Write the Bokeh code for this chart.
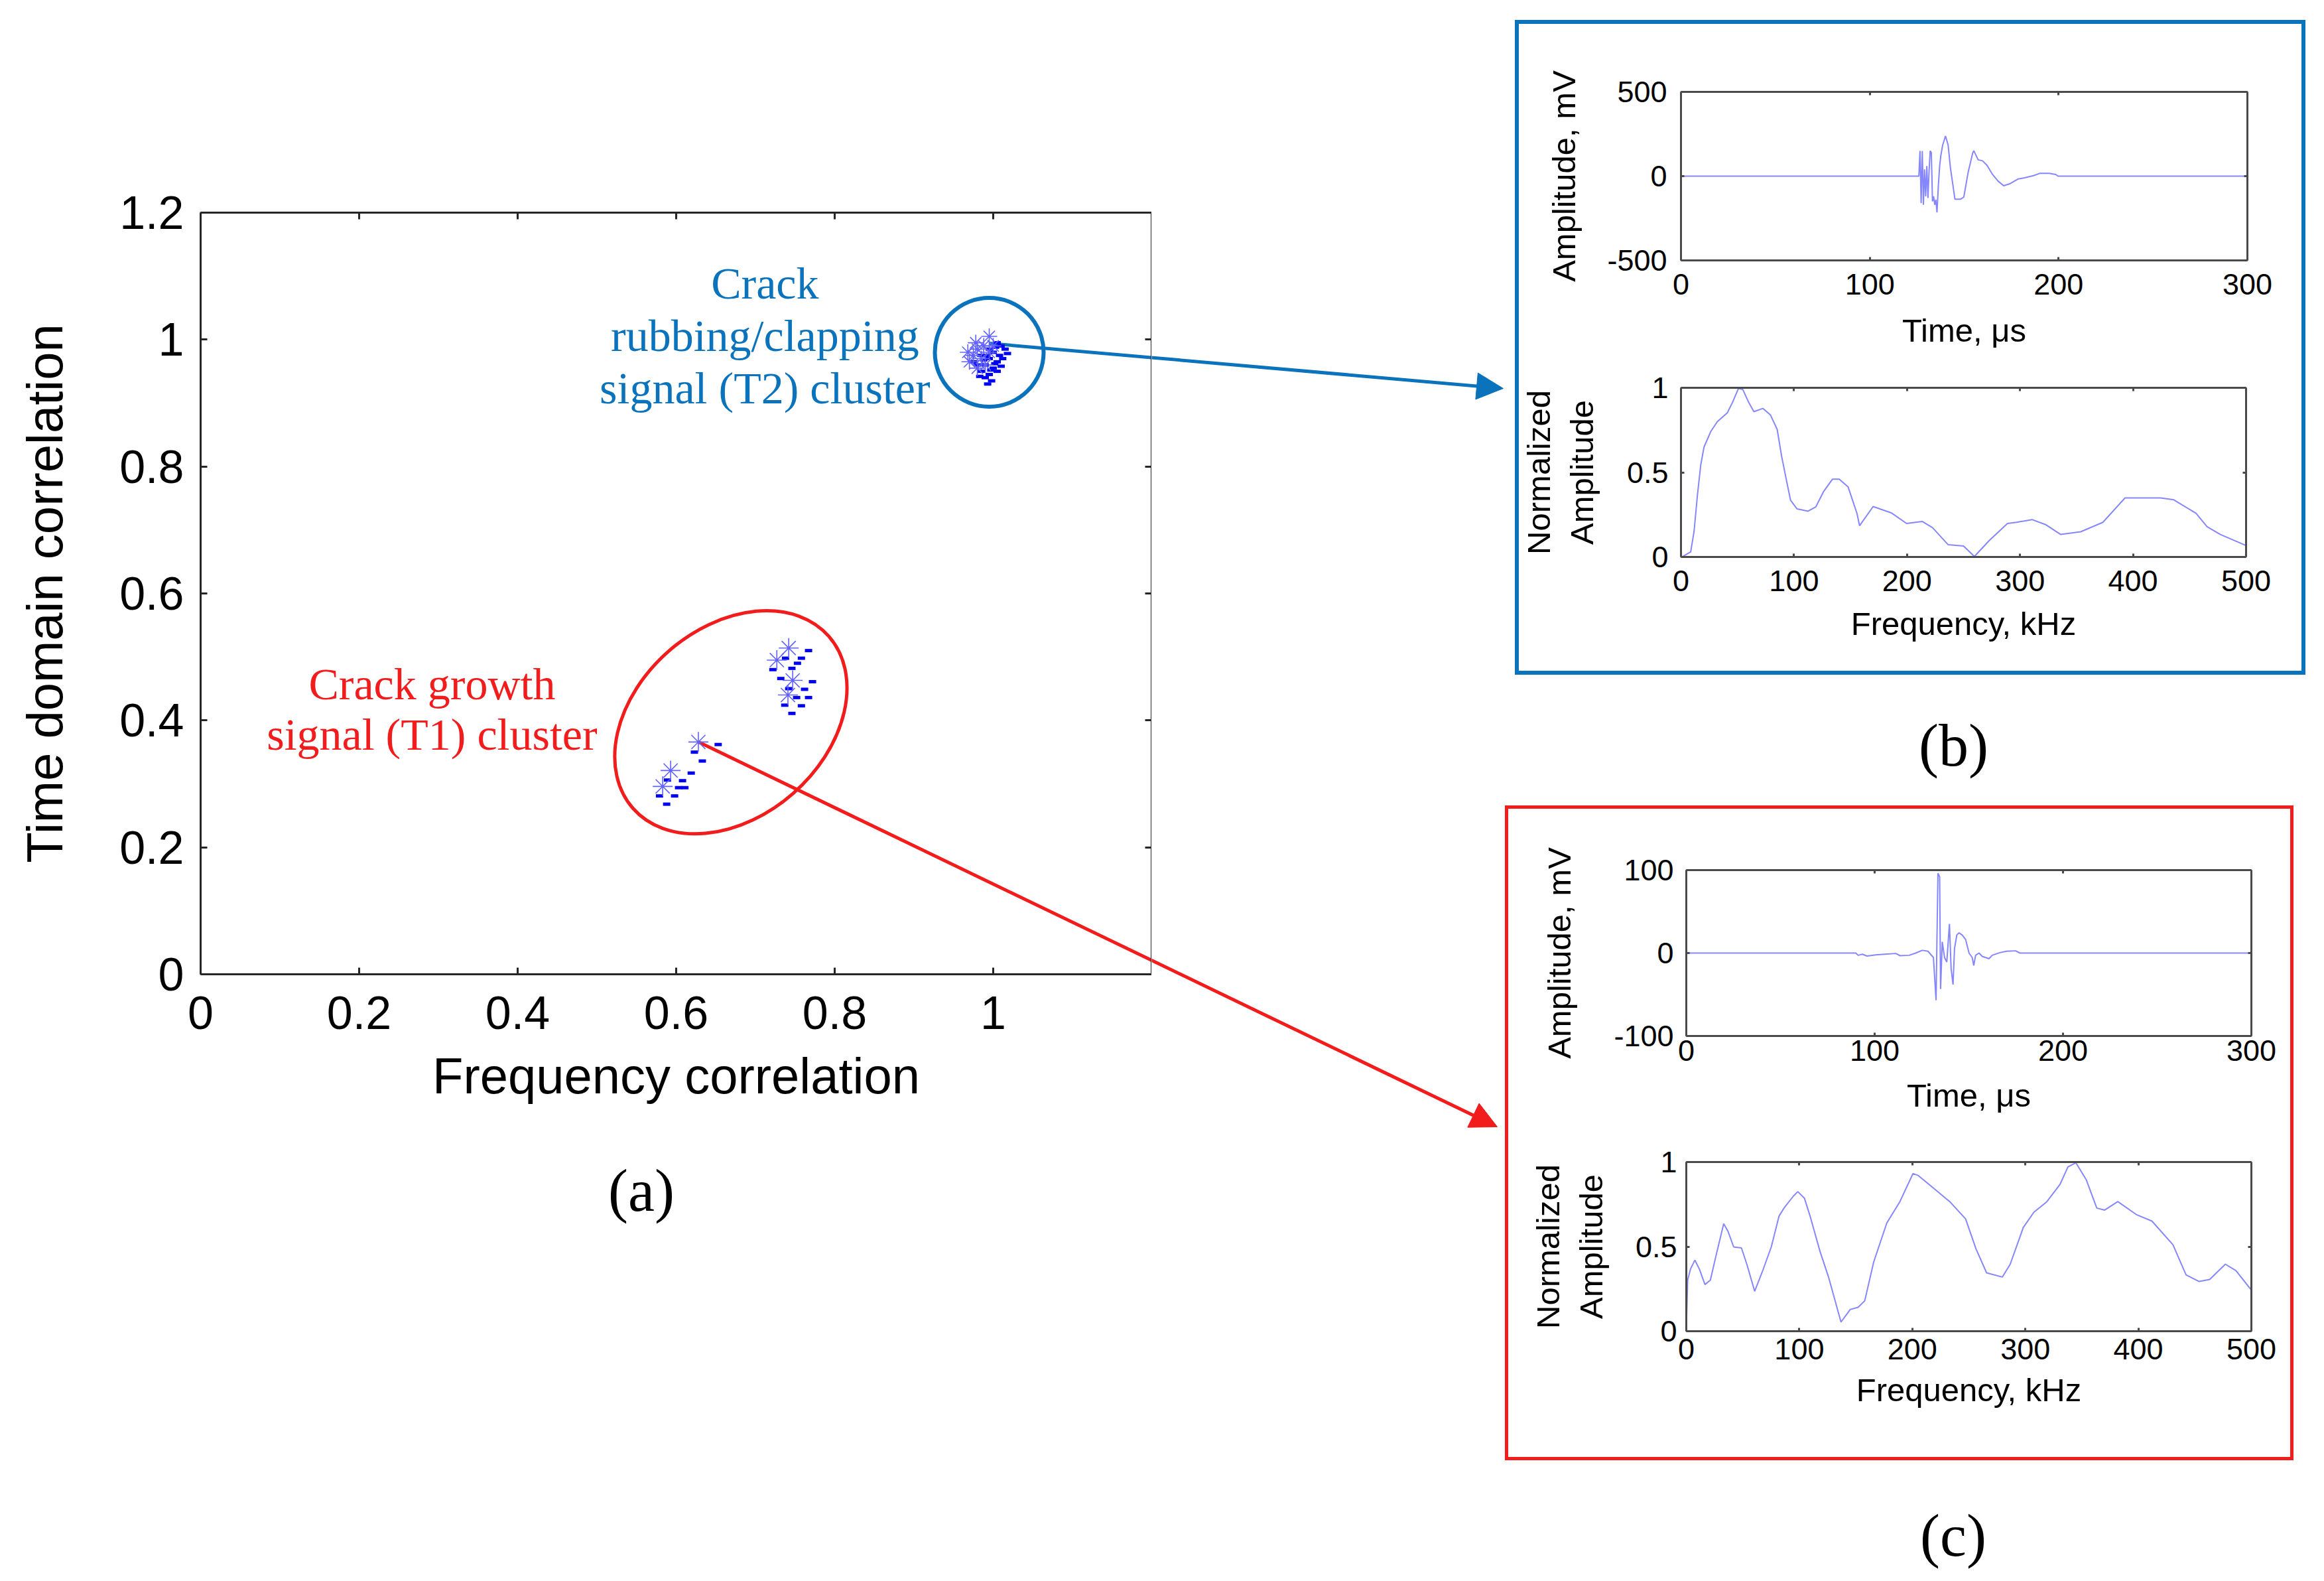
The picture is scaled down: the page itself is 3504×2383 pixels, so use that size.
from bokeh.plotting import figure
from bokeh.layouts import row, column
from bokeh.models import Range1d, LinearAxis, FixedTicker, Arrow, NormalHead, Label, Div, Spacer
from bokeh.embed import file_html
from bokeh.resources import INLINE

# ---------------- data: panel (a) ----------------
t1_star_freq = [0.742, 0.727, 0.747, 0.741, 0.628, 0.593, 0.583]
t1_star_time = [0.514, 0.495, 0.463, 0.440, 0.366, 0.321, 0.296]
t1_dash_freq = [0.767, 0.738, 0.758, 0.753, 0.746, 0.722, 0.732, 0.772, 0.742, 0.762, 0.752, 0.767, 0.737,
                0.758, 0.746, 0.653, 0.623, 0.633, 0.619, 0.589, 0.608, 0.603, 0.611, 0.579, 0.598, 0.588]
t1_dash_time = [0.510, 0.498, 0.498, 0.490, 0.482, 0.480, 0.466, 0.461, 0.450, 0.449, 0.436, 0.436, 0.424,
                0.423, 0.411, 0.362, 0.350, 0.336, 0.317, 0.306, 0.305, 0.294, 0.294, 0.281, 0.281, 0.268]
t2_star_freq = [0.995, 0.988, 0.980, 0.975, 0.970, 0.985, 0.990, 0.980, 0.995, 1.000, 0.978, 0.968]
t2_star_time = [1.005, 0.990, 0.985, 0.975, 0.965, 0.970, 0.960, 0.955, 0.980, 0.990, 0.995, 0.980]
t2_dash_freq = [1.005, 1.010, 1.015, 1.000, 1.008, 0.995, 1.005, 1.012, 0.990, 1.000, 0.985, 0.995, 0.990,
                1.005, 0.980, 0.985, 0.995, 1.018, 0.998, 0.975, 0.992, 1.002, 0.988, 0.997, 1.010,
                0.983, 0.993, 1.003]
t2_dash_time = [0.995, 0.990, 0.985, 0.980, 0.975, 0.970, 0.965, 0.970, 0.960, 0.955, 0.950, 0.945, 0.940,
                0.950, 0.960, 0.975, 0.985, 0.978, 0.935, 0.965, 0.975, 0.962, 0.968, 0.952, 0.958,
                0.942, 0.930, 0.988]
x_ticks_a = [0, 0.2, 0.4, 0.6, 0.8, 1.0]
x_labels_a = ["0", "0.2", "0.4", "0.6", "0.8", "1"]
y_ticks_a = [0, 0.2, 0.4, 0.6, 0.8, 1.0, 1.2]
y_labels_a = ["0", "0.2", "0.4", "0.6", "0.8", "1", "1.2"]

# ---------------- data: panel (b) ----------------
b_time_us = [0, 124.5, 126.0, 126.6, 127.2, 127.8, 128.4, 129.0, 129.6, 130.2, 130.8, 131.4, 132.0, 132.6,
             133.2, 133.8, 134.4, 135.0, 135.6, 136.3, 137.0, 137.6, 138.6, 140.1, 141.5, 142.7, 145.1,
             148.0, 149.8, 152.1, 154.5, 155.1, 157.4, 159.7, 162.1, 165.0, 168.0, 170.9, 174.4, 178.5,
             182.0, 186.7, 190.2, 195.0, 198.5, 199.7, 300]
b_time_mv = [0, 0, 0, 150, -160, 150, -170, 40, -120, 60, -130, 30, 150, 140, -150, -120, -170, -140, -215,
             -60, 60, 120, 184, 238, 184, 50, -137, -137, -124, 23, 137, 151, 97, 91, 64, 10, -30, -57,
             -44, -17, -10, 3, 17, 17, 10, 0, 0]
b_freq_khz = [0.8, 8.6, 11.6, 14.5, 17.5, 20.4, 26.3, 32.2, 41.0, 45.9, 50.8, 54.7, 59.6, 64.5, 72.4, 79.2,
              85.1, 89.0, 92.9, 96.9, 102.7, 112.5, 119.4, 126.3, 134.1, 140.0, 147.8, 155.7, 158, 170,
              186, 199.6, 213.4, 222.6, 236.3, 250, 259.6, 272.9, 288.9, 296.9, 310.6, 323, 336, 353.7,
              373.3, 392.9, 424.3, 436, 455.7, 465.5, 477.3, 499.8]
b_freq_amp = [0.0, 0.03, 0.153, 0.362, 0.545, 0.65, 0.741, 0.8, 0.852, 0.918, 0.996, 0.99, 0.918, 0.859,
              0.878, 0.839, 0.754, 0.597, 0.467, 0.336, 0.284, 0.271, 0.297, 0.388, 0.46, 0.46, 0.415,
              0.258, 0.185, 0.298, 0.261, 0.198, 0.21, 0.173, 0.073, 0.065, 0.003, 0.098, 0.198, 0.205,
              0.221, 0.19, 0.133, 0.149, 0.205, 0.349, 0.349, 0.338, 0.258, 0.179, 0.133, 0.068]

# ---------------- data: panel (c) ----------------
c_time_us = [0, 90, 91.2, 93.5, 95.9, 100.6, 105.3, 111.2, 113.5, 118.3, 121.8, 125.3, 128.3, 131.2,
             132.6, 133.6, 134.5, 135.0, 135.9, 137.1, 138.3, 139.7, 140.6, 141.6, 142.4, 143.6, 144.8,
             146.5, 148.3, 150.1, 151.8, 152.6, 153.6, 155.4, 157.1, 158.9, 160.7, 162.4, 166.5, 170.1,
             174.8, 177.1, 300]
c_time_mv = [0, 0, -2.7, -1.4, -3.6, -2.2, -1.4, -0.5, -3.2, -2.7, 0, 3.3, 2.2, -5.4, -56.9, 96.2, 92,
             -43.4, 13.5, -5.4, -10.9, 35.2, -19, -38, 5.4, 21.7, 24.4, 21.7, 16.3, 0, -5.4, -15, -2.7,
             0, -4, -5.4, -6.8, -2.7, 0.5, 2.2, 2.7, 0, 0]
c_freq_khz = [0, 1.2, 3.7, 7.6, 11.6, 16.5, 21.3, 27.2, 33.1, 37.0, 41.9, 48.8, 53.7, 60.5, 67.4, 75.2,
              82.1, 87, 94.8, 98.7, 104.6, 109.5, 118.3, 126.1, 136.9, 145.1, 152, 157.9, 165.8, 177.4,
              189, 200.6, 205.3, 219.2, 233.1, 247.1, 256.4, 265.7, 279.6, 286.6, 298.2, 307.5, 319.1,
              330.7, 337.7, 344.7, 354, 363.2, 370.2, 381.8, 398.1, 412, 430.6, 442.2, 453.8, 463.1,
              477, 486.3, 500]
c_freq_amp = [0.02, 0.302, 0.367, 0.42, 0.367, 0.276, 0.302, 0.472, 0.635, 0.589, 0.498, 0.492, 0.393,
              0.236, 0.354, 0.498, 0.681, 0.733, 0.799, 0.825, 0.785, 0.681, 0.472, 0.315, 0.054, 0.129,
              0.141, 0.18, 0.409, 0.639, 0.766, 0.932, 0.92, 0.843, 0.766, 0.664, 0.486, 0.345, 0.32,
              0.396, 0.613, 0.703, 0.766, 0.868, 0.971, 0.996, 0.894, 0.728, 0.716, 0.766, 0.69, 0.651,
              0.511, 0.333, 0.294, 0.306, 0.396, 0.358, 0.243]

# ---------------- styles ----------------
BLUE_ANN = "#0a73bb"
RED_ANN = "#f21c1c"
STAR_C = "#6262ff"
DASH_C = "#0000f0"
LINE_C = "#8686ff"
AX_MAIN = "#262626"
AX_IN = "#4a4a4a"
SANS = "Liberation Sans"
SERIF = "Liberation Serif"

# arrow geometry in the data coordinates of panel (a) (cluster -> inset box)
blue_arrow = dict(x_start=0.995, y_start=0.994, x_end=1.6435, y_end=0.923)
red_arrow = dict(x_start=0.628, y_start=0.366, x_end=1.636, y_end=-0.2404)


def style_axis(ax, ticks, labels, font_px, tick_in, line_w, color, standoff=10):
    ax.ticker = FixedTicker(ticks=ticks)
    ax.minor_tick_line_color = None
    ax.major_tick_in = tick_in
    ax.major_tick_out = 0
    ax.major_tick_line_color = color
    ax.major_tick_line_width = line_w
    ax.axis_line_color = color
    ax.axis_line_width = line_w
    ax.major_label_text_font = SANS
    ax.major_label_text_font_size = f"{font_px}px"
    ax.major_label_text_color = "black"
    ax.major_label_standoff = standoff
    if labels is None:
        ax.major_label_overrides = {t: "" for t in ticks}
        ax.major_label_standoff = 0
    else:
        ax.major_label_overrides = {t: s for t, s in zip(ticks, labels)}


def style_title(ax, text, font_px, standoff):
    ax.axis_label = text
    ax.axis_label_text_font = SANS
    ax.axis_label_text_font_size = f"{font_px}px"
    ax.axis_label_text_font_style = "normal"
    ax.axis_label_text_color = "black"
    ax.axis_label_standoff = standoff


# ---------------- panel (a) ----------------
p = figure(output_backend="svg", toolbar_location=None,
           x_range=Range1d(0, 1.2), y_range=Range1d(0, 1.2),
           frame_width=1434, frame_height=1148,
           min_border_left=302, min_border_right=0, min_border_top=320, min_border_bottom=240)
p.grid.visible = False
p.outline_line_color = None
p.add_layout(LinearAxis(), "above")
edge = LinearAxis(fixed_location=1.2)   # right-hand side of the box, drawn inside the frame
p.add_layout(edge, "left")
style_axis(p.below[0], x_ticks_a, x_labels_a, 70, 10, 3, AX_MAIN, standoff=33)
style_axis(p.left[0], y_ticks_a, y_labels_a, 70, 10, 3, AX_MAIN, standoff=25)
style_axis(p.above[0], x_ticks_a, None, 70, 10, 3, AX_MAIN)
style_axis(edge, y_ticks_a, None, 70, 0, 3, AX_MAIN)
edge.major_tick_out = 10
style_title(p.below[0], "Frequency correlation", 76, 25)
style_title(p.left[0], "Time domain correlation", 76, 67)

# cluster outlines
p.ellipse(x=[0.995], y=[0.98], width=164, height=164, width_units="screen", height_units="screen",
          fill_color=None, line_color=BLUE_ANN, line_width=6)
p.ellipse(x=[0.669], y=[0.397], width=393, height=285, angle=0.72, width_units="screen",
          height_units="screen", fill_color=None, line_color=RED_ANN, line_width=5)

# connector lines (part inside panel (a); continued in the arrow strip)
for arr, col in ((blue_arrow, BLUE_ANN), (red_arrow, RED_ANN)):
    p.segment(x0=[arr["x_start"]], y0=[arr["y_start"]], x1=[arr["x_end"]], y1=[arr["y_end"]],
              line_color=col, line_width=5)

# markers
p.scatter(t1_dash_freq, t1_dash_time, marker="dash", size=11, line_color=DASH_C, line_width=5)
p.scatter(t2_dash_freq, t2_dash_time, marker="dash", size=11, line_color=DASH_C, line_width=5)
p.scatter(t1_star_freq, t1_star_time, marker="asterisk", size=30, line_color=STAR_C, line_width=1.6)
p.scatter(t2_star_freq, t2_star_time, marker="asterisk", size=24, line_color=STAR_C, line_width=1.6)

# annotation texts
for txt, yy in [("Crack", 1.089), ("rubbing/clapping", 1.006), ("signal (T2) cluster", 0.924)]:
    p.add_layout(Label(x=0.712, y=yy, text=txt, text_align="center", text_baseline="middle",
                       text_font=SERIF, text_font_size="68px", text_color=BLUE_ANN))
for txt, yy in [("Crack growth", 0.457), ("signal (T1) cluster", 0.378)]:
    p.add_layout(Label(x=0.292, y=yy, text=txt, text_align="center", text_baseline="middle",
                       text_font=SERIF, text_font_size="68px", text_color=RED_ANN))

lab_style = "font-family:'Liberation Serif';font-size:90px;line-height:1;color:black;"
div_a = Div(text=f'<div style="{lab_style}margin-left:917px;margin-top:42px;">(a)</div>',
            width=1736, height=667, margin=0)

# ---------------- arrow strip between panel (a) and the insets ----------------
# same scales as panel (a), continued to the right of its frame
ppx = 1434 / 1.2
ppy = 1148 / 1.2
strip = figure(output_backend="svg", toolbar_location=None,
               x_range=Range1d(1.2, 1.2 + 533 / ppx), y_range=Range1d(-907 / ppy, 1468 / ppy),
               frame_width=533, frame_height=2375, min_border=0,
               x_axis_type=None, y_axis_type=None)
strip.grid.visible = False
strip.outline_line_color = None
strip.add_layout(Arrow(end=NormalHead(size=40, fill_color=BLUE_ANN, line_color=BLUE_ANN),
                       line_color=BLUE_ANN, line_width=5, **blue_arrow))
strip.add_layout(Arrow(end=NormalHead(size=40, fill_color=RED_ANN, line_color=RED_ANN),
                       line_color=RED_ANN, line_width=5, **red_arrow))


# ---------------- insets ----------------
def make_inset(xs, ys, xr, yr, xticks, xlabels, yticks, ylabels, fw, fh, bl, br, bt, bb,
               xtitle, ytitle, x_std, x_lstd, y_std, y_lstd):
    f = figure(output_backend="svg", toolbar_location=None,
               x_range=Range1d(*xr), y_range=Range1d(*yr),
               frame_width=fw, frame_height=fh,
               min_border_left=bl, min_border_right=br, min_border_top=bt, min_border_bottom=bb)
    f.grid.visible = False
    f.outline_line_color = None
    f.add_layout(LinearAxis(), "above")
    f.add_layout(LinearAxis(), "right")
    style_axis(f.below[0], xticks, xlabels, 45, 5, 3, AX_IN, standoff=x_std)
    style_axis(f.left[0], yticks, ylabels, 45, 5, 3, AX_IN, standoff=y_std)
    style_axis(f.above[0], xticks, None, 45, 5, 3, AX_IN)
    style_axis(f.right[0], yticks, None, 45, 5, 3, AX_IN)
    style_title(f.below[0], xtitle, 49, x_lstd)
    style_title(f.left[0], ytitle, 49, y_lstd)
    f.line(xs, ys, line_color=LINE_C, line_width=2)
    return f


t_ticks = [0, 100, 200, 300]
t_labels = ["0", "100", "200", "300"]
f_ticks = [0, 100, 200, 300, 400, 500]
f_labels = ["0", "100", "200", "300", "400", "500"]
n_ticks = [0, 0.5, 1]
n_labels = ["0", "0.5", "1"]

fb1 = make_inset(b_time_us, b_time_mv, (0, 300), (-500, 500), t_ticks, t_labels,
                 [-500, 0, 500], ["-500", "0", "500"], 854, 254, 243, 81, 102, 148,
                 "Time, \u03bcs", "Amplitude, mV", 20, 24, 21, 35)
fb2 = make_inset(b_freq_khz, b_freq_amp, (0, 500), (0, 1), f_ticks, f_labels, n_ticks, n_labels,
                 852, 255, 242, 84, 44, 172, "Frequency, kHz", "Normalized\nAmplitude", 20, 19, 19, 38)
fc1 = make_inset(c_time_us, c_time_mv, (0, 300), (-100, 100), t_ticks, t_labels,
                 [-100, 0, 100], ["-100", "0", "100"], 852, 250, 268, 59, 92, 138,
                 "Time, \u03bcs", "Amplitude, mV", 6, 22, 19, 52)
fc2 = make_inset(c_freq_khz, c_freq_amp, (0, 500), (0, 1), f_ticks, f_labels, n_ticks, n_labels,
                 852, 255, 268, 59, 52, 190, "Frequency, kHz", "Normalized\nAmplitude", 11, 16, 14, 37)

box_b = column(fb1, fb2, styles={"border": "6px solid " + BLUE_ANN, "margin-left": "15px"})
box_c = column(fc1, fc2, styles={"border": "5px solid " + RED_ANN})

div_b = Div(text=f'<div style="{lab_style}margin-left:624px;margin-top:62px;">(b)</div>',
            width=1190, height=197, margin=0)
div_c = Div(text=f'<div style="{lab_style}margin-left:626px;margin-top:69px;">(c)</div>',
            width=1190, height=170, margin=0)

right = column(Spacer(width=1190, height=30), box_b, div_b, box_c, div_c)
layout = row(column(p, div_a), strip, right)

open("out.html", "w").write(file_html(layout, INLINE))
